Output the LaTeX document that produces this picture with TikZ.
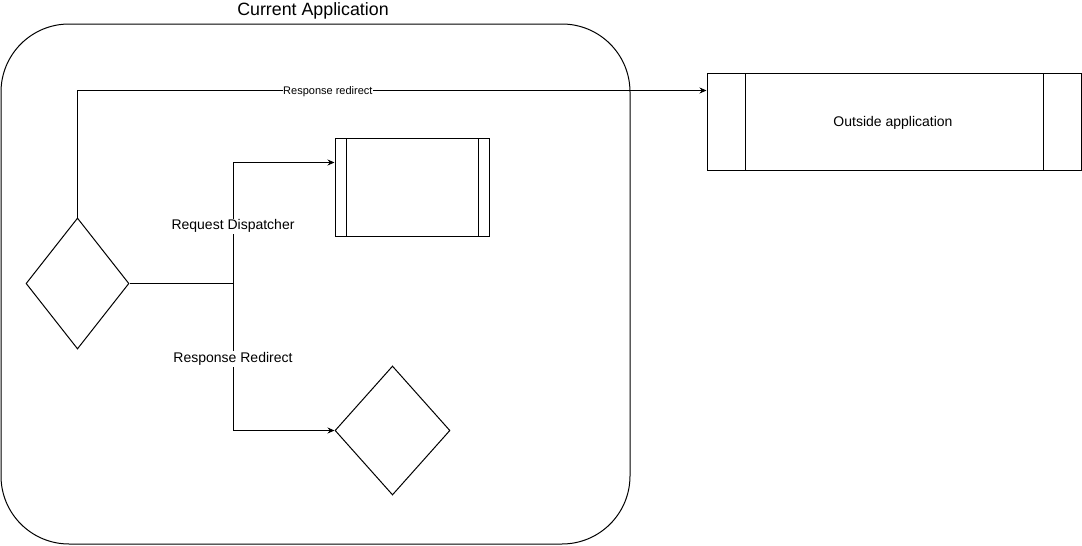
\documentclass[tikz,border=0pt]{standalone}
\usepackage{fontspec}
\setmainfont{Liberation Sans}
\usetikzlibrary{shapes.geometric,arrows.meta,calc}
\begin{document}
\begin{tikzpicture}[x=1pt,y=-1pt,line width=1pt,
  decbox/.style={draw, diamond, inner sep=0pt, minimum width=#1},
  procbox/.style={draw, rectangle, inner sep=0pt,
    path picture={
      \draw ([xshift=#1]path picture bounding box.north west) -- ([xshift=#1]path picture bounding box.south west);
      \draw ([xshift=-#1]path picture bounding box.north east) -- ([xshift=-#1]path picture bounding box.south east);}},
  arr/.style={-{Stealth[length=7pt,width=6pt]}},
  lbl/.style={fill=white, inner sep=1pt, yshift=-2pt, font=\fontsize{14}{16}\selectfont},
  slbl/.style={fill=white, inner sep=0.5pt, yshift=-1.5pt, font=\fontsize{11}{12}\selectfont}]
\useasboundingbox (0,0) rectangle (1082,546);
% container
\node[draw, rectangle, rounded corners=68pt, minimum width=629pt, minimum height=520pt, inner sep=0pt] (app) at (315.5,284) {};
\node[font=\fontsize{17.8}{20}\selectfont] (title) at (313,11) {Current Application};
% shapes
\node[decbox, minimum height=131pt, minimum width=103pt] (d1) at (77.5,283.5) {};
\node[decbox, minimum height=129pt, minimum width=115pt] (d2) at (392.5,430.5) {};
\node[procbox=11pt, minimum width=154pt, minimum height=98pt] (box1) at (412,187) {};
\node[procbox=38pt, minimum width=374pt, minimum height=97pt] (out) at (894,121.5) {};
\node[font=\fontsize{14}{16}\selectfont] (outlbl) at (893,123) {Outside application};
% connectors
\coordinate (j) at (233,283.5);
\coordinate (b1in) at ($(box1.north west)+(0,25)$);
\coordinate (oin) at ($(out.north west)+(0,18)$);
\draw (d1.east) -- (j);
\draw[arr] (j) |- node[lbl, pos=0.245] {Request Dispatcher} (b1in);
\draw[arr] (j) |- node[lbl, pos=0.25] {Response Redirect} (d2.west);
\draw[arr] (d1.north) |- node[slbl, pos=0.699] {Response redirect} (oin);
\end{tikzpicture}
\end{document}
